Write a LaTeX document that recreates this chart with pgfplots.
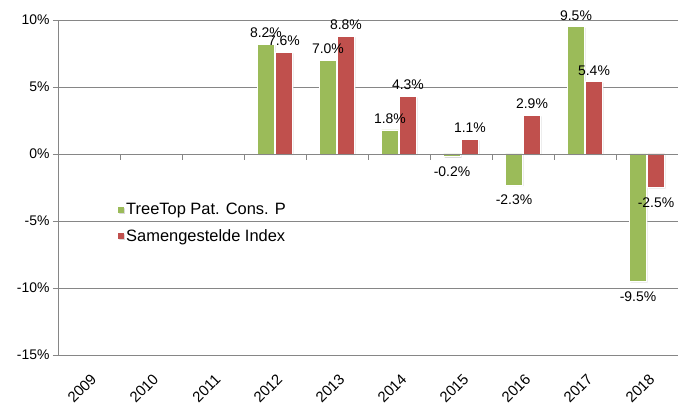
\documentclass[border=0pt]{standalone}
\usepackage{pgfplots}
\pgfplotsset{compat=1.18}
\usepackage{fontspec}
\setmainfont{Liberation Sans}
\usetikzlibrary{shadows}
\definecolor{tgreen}{HTML}{9BBB59}
\definecolor{tred}{HTML}{C0504D}
\definecolor{gridc}{HTML}{868686}

\begin{document}
\begin{tikzpicture}
\begin{axis}[
  name=main,
  scale only axis, width=620bp, height=335bp,
  ybar, bar width=17bp, ybar=1bp,
  xmin=-0.5, xmax=9.5, ymin=-15, ymax=10,
  xtick={0,...,9},
  xticklabels={2009,2010,2011,2012,2013,2014,2015,2016,2017,2018},
  ytick={-15,-10,-5,0,5,10},
  yticklabels={-15\%,-10\%,-5\%,0\%,5\%,10\%},
  ymajorgrids, grid style={gridc, line width=0.8bp},
  axis y line*=left, axis x line*=bottom,
  axis line style={gridc, line width=0.8bp},
  tick align=outside,
  x tick style={draw=none},
  y tick style={gridc, line width=0.8bp},
  major tick length=5bp,
  x tick label style={xshift=1bp, yshift=-8bp, rotate=45, anchor=north east, font=\fontsize{15}{17}\selectfont},
  y tick label style={font=\fontsize{14}{16}\selectfont},
  visualization depends on=rawy\as\rawy,
  nodes near coords={\pgfmathprintnumber[fixed,fixed zerofill,precision=1,assume math mode=true]{\pgfplotspointmeta}\%},
  nodes near coords align={vertical},
  every node near coord/.append style={font=\fontsize{14}{16}\selectfont, black, inner sep=6bp,
    yshift={ifthenelse(\rawy<0,-4,0)}},
  legend style={at={(0.092,0.465)}, anchor=north west, draw=none, fill=none,
    font=\fontsize{16.5}{18}\selectfont, row sep=9bp},
  legend cell align=left,
  legend image code/.code={\fill[#1,draw=none] (0bp,-3bp) rectangle (6bp,3bp);},
]
\addplot[fill=tgreen, draw=white, line width=0.5bp,
  drop shadow={shadow xshift=1.2bp, shadow yshift=-1.2bp, opacity=0.3}]
  coordinates {(3,8.2) (4,7.0) (5,1.8) (6,-0.2) (7,-2.3) (8,9.5) (9,-9.5)};
\addplot[fill=tred, draw=white, line width=0.5bp,
  drop shadow={shadow xshift=1.2bp, shadow yshift=-1.2bp, opacity=0.3}]
  coordinates {(3,7.6) (4,8.8) (5,4.3) (6,1.1) (7,2.9) (8,5.4) (9,-2.5)};
\legend{TreeTop Pat. Cons. P, Samengestelde Index}
\end{axis}
% tick marks on the zero line between categories
\begin{axis}[
  scale only axis, width=620bp, height=335bp,
  xmin=-0.5, xmax=9.5, ymin=-15, ymax=10,
  axis x line=middle, axis y line=none,
  axis line style={gridc, line width=0.8bp, -},
  xtick={0.5,1.5,2.5,3.5,4.5,5.5,6.5,7.5,8.5},
  xticklabels={}, ytick=\empty,
  tick align=outside, major tick length=6bp,
  x tick style={gridc, line width=0.8bp},
]
\end{axis}
\pgfresetboundingbox
\path[use as bounding box] ([xshift=-58bp,yshift=-50bp]main.south west)
  rectangle ([yshift=20bp]main.north east);
\end{tikzpicture}
\end{document}
